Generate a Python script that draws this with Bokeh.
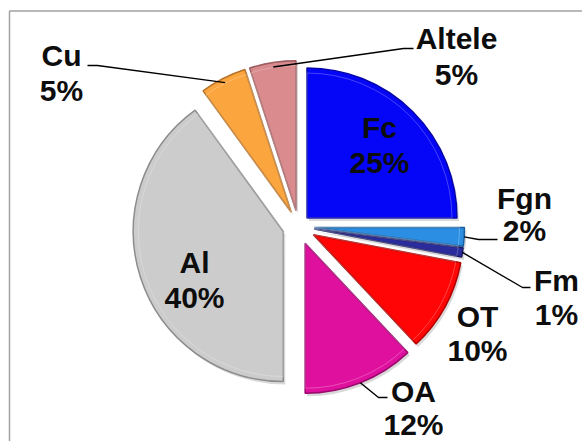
import math
from bokeh.plotting import figure
from bokeh.models import Range1d, ColumnDataSource
from bokeh.embed import file_html
from bokeh.resources import INLINE
from bokeh.core.properties import value

# ---- data ----
categories = ["Fc", "Fgn", "Fm", "OT", "OA", "Al", "Cu", "Altele"]
percents = [25, 2, 1, 10, 12, 40, 5, 5]

# ---- styles ----
colors = ["#0505F8", "#2B8EE3", "#2A2C9C", "#FF0505", "#E0109F", "#CCCCCC", "#FBA53F", "#D98B8D"]
edge_colors = ["#0606A8", "#1C5F9C", "#1A1B66", "#B00000", "#9C0A6E", "#8C8C8C", "#B8732A", "#9C5E60"]
explode = [12, 16, 16, 17, 18, 16, 16, 16]

W, H = 582, 441
TEXT_SHIFT = 10  # renderer places alphabetic baseline lower; compensate


def sx(x):
    return x


def sy(y):
    return H - y


CX, CY = sx(298), sy(226)
R = 150

# label layout (screen px): center x, name baseline, percent baseline
label_x = [379, 524, 556, 477, 413, 194, 61, 456]
name_base = [137, 208, 290, 326, 401, 272, 65, 48]
pct_base = [172, 240, 324, 360, 434, 307, 100, 84]

# leader lines: anchor radius factor, elbow point, end point (screen px)
leaders = {
    "Fgn": (1.0, (478, 239), (497, 239)),
    "Fm": (1.0, (522, 287), (530, 287)),
    "OA": (1.0, (378, 397), (387, 397)),
    "Cu": (0.97, (97, 65), (87, 65)),
    "Altele": (0.97, (403, 48), (413, 48)),
}

total = float(sum(percents))
starts, ends, px, py, mids = [], [], [], [], []
acc = 0.0
for v, d in zip(percents, explode):
    f0 = acc / total
    acc += v
    f1 = acc / total
    th0 = 2 * math.pi * f0
    th1 = 2 * math.pi * f1
    thm = (th0 + th1) / 2
    starts.append(math.pi / 2 - th0)
    ends.append(math.pi / 2 - th1)
    px.append(CX + d * math.sin(thm))
    py.append(CY + d * math.cos(thm))
    mids.append(thm)

src = ColumnDataSource(dict(x=px, y=py, sx_=[x + 2 for x in px], sy_=[y - 3 for y in py],
                            start=starts, end=ends, color=colors, edge=edge_colors))

p = figure(width=W, height=H, x_range=Range1d(0, W), y_range=Range1d(0, H),
           output_backend="svg", toolbar_location=None, min_border=0)
p.axis.visible = False
p.grid.visible = False
p.outline_line_color = None
p.background_fill_color = "white"
p.border_fill_color = "white"

# chart frame (top and left visible, rest clipped by window)
p.line(x=[sx(9), sx(9), sx(600)], y=[sy(460), sy(10.5), sy(10.5)], line_color="#A3A3A3", line_width=1.5)

# soft shadow
p.wedge(x="sx_", y="sy_", radius=R, start_angle="start", end_angle="end", direction="clock",
        fill_color="black", fill_alpha=0.15, line_color=None, source=src)
# slices
p.wedge(x="x", y="y", radius=R, start_angle="start", end_angle="end", direction="clock",
        fill_color="color", line_color="edge", line_width=1.5, source=src)
# bevel highlight
p.wedge(x="x", y="y", radius=R - 5, start_angle="start", end_angle="end", direction="clock",
        fill_color=None, line_color="white", line_alpha=0.25, line_width=1,
        source=src)

# leader lines
xs, ys = [], []
for i, c in enumerate(categories):
    if c in leaders:
        k, elbow, endp = leaders[c]
        ax = px[i] + R * k * math.sin(mids[i])
        ay = py[i] + R * k * math.cos(mids[i])
        xs.append([ax, sx(elbow[0]), sx(endp[0])])
        ys.append([ay, sy(elbow[1]), sy(endp[1])])
p.multi_line(xs=xs, ys=ys, line_color="black", line_width=1.4)

# labels
pct_text = ["%d%%" % v for v in percents]
p.text(x=[sx(v) for v in label_x], y=[sy(v - TEXT_SHIFT) for v in name_base], text=categories,
       text_font=value("Liberation Sans"), text_font_style="bold", text_font_size="30px",
       text_align="center", text_baseline="alphabetic", text_color="#0D0D0D")
p.text(x=[sx(v) for v in label_x], y=[sy(v - TEXT_SHIFT) for v in pct_base], text=pct_text,
       text_font=value("Liberation Sans"), text_font_style="bold", text_font_size="30px",
       text_align="center", text_baseline="alphabetic", text_color="#0D0D0D")

open("out.html", "w").write(file_html(p, INLINE))
